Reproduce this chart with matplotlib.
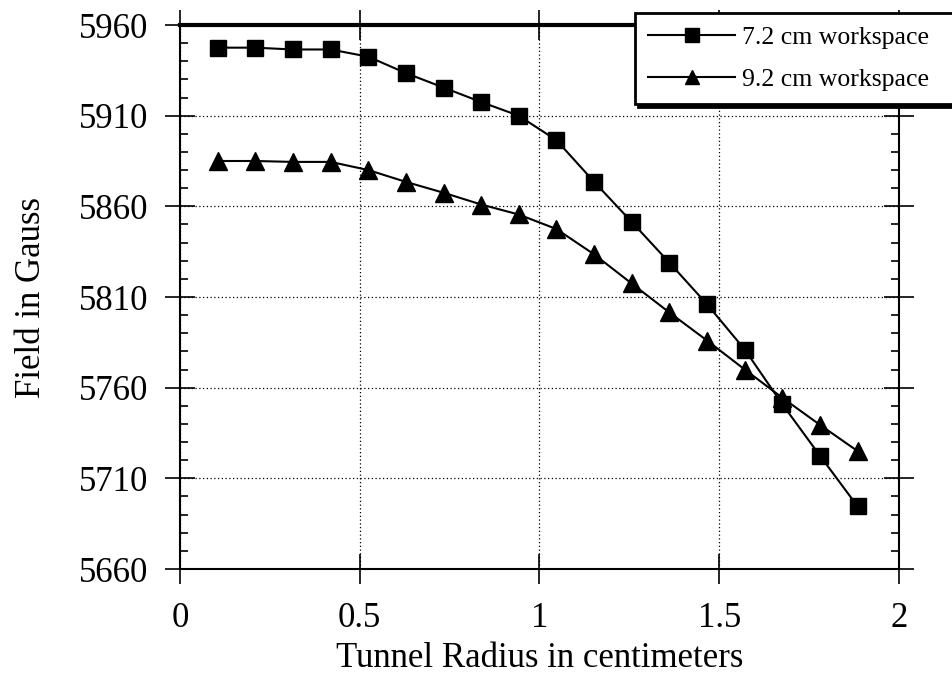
import matplotlib
matplotlib.use("Agg")
import matplotlib.pyplot as plt
from matplotlib.ticker import MultipleLocator

plt.rcParams['font.family'] = ['Liberation Serif', 'DejaVu Serif']

# Data
radius = [0.105, 0.209, 0.314, 0.419, 0.524, 0.628, 0.733, 0.838, 0.942,
          1.047, 1.152, 1.256, 1.361, 1.466, 1.571, 1.675, 1.780, 1.885]
field_72 = [5947.5, 5947.5, 5946.5, 5946.5, 5942.5, 5933.5, 5925.5, 5917.5, 5910,
            5896.5, 5873.5, 5851.5, 5829, 5806, 5781, 5751, 5722.5, 5694.5]
field_92 = [5885, 5885, 5884.5, 5884.5, 5880, 5873.5, 5867.5, 5861, 5855.5,
            5847.5, 5833.5, 5817.5, 5801.5, 5786, 5770, 5754.5, 5739.5, 5725]
series_labels = ["7.2 cm workspace", "9.2 cm workspace"]
x_ticks = [0, 0.5, 1, 1.5, 2]
x_tick_labels = ["0", "0.5", "1", "1.5", "2"]
y_ticks = [5660, 5710, 5760, 5810, 5860, 5910, 5960]

fig = plt.figure(figsize=(9.53, 6.78), dpi=100)
ax = fig.add_axes([180/953, 1-569/678, 719/953, 544/678])

l1, = ax.plot(radius, field_72, '-', color='black', lw=1.5, marker='s', ms=12,
              markerfacecolor='black', markeredgecolor='black', clip_on=False, zorder=3)
l2, = ax.plot(radius, field_92, '-', color='black', lw=1.5, marker='^', ms=13,
              markerfacecolor='black', markeredgecolor='black', clip_on=False, zorder=3)

ax.set_xlim(0, 2)
ax.set_ylim(5660, 5960)
ax.set_xticks(x_ticks)
ax.set_xticklabels(x_tick_labels)
ax.set_yticks(y_ticks)
ax.yaxis.set_minor_locator(MultipleLocator(10))

ax.tick_params(which='major', direction='inout', length=22, width=1.2,
               top=True, right=True, bottom=True, left=True, labelsize=25)
ax.tick_params(which='minor', direction='in', length=6, width=1.2,
               left=True, right=True)
ax.tick_params(axis='y', which='major', pad=12)
ax.tick_params(axis='x', which='major', pad=13)

ax.grid(True, which='major', linestyle=(0, (1, 2)), color='black', linewidth=0.9)
ax.set_axisbelow(True)

for s in ['left', 'bottom', 'right']:
    ax.spines[s].set_linewidth(1.5)
ax.spines['top'].set_linewidth(3)

ax.set_xlabel("Tunnel Radius in centimeters", fontsize=25, labelpad=5)
ax.set_ylabel("Field in Gauss", fontsize=25, labelpad=22)

leg = ax.legend([l1, l2], series_labels, loc='lower left',
                bbox_to_anchor=(635/953, 1-104/678, 330/953, 0.1),
                bbox_transform=fig.transFigure, mode='expand',
                borderaxespad=0, fontsize=18.5, handlelength=3.4, handletextpad=0.27,
                labelspacing=0.75, borderpad=0.5, markerscale=0.8,
                fancybox=False, frameon=True, edgecolor='black',
                shadow={'color': 'black', 'alpha': 1})
leg.get_frame().set_linewidth(2)
leg.set_zorder(10)

fig.savefig("out.png", dpi=100)
